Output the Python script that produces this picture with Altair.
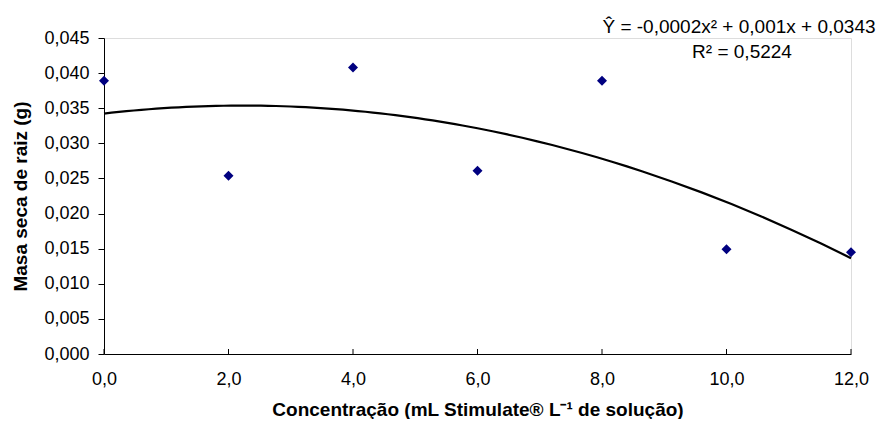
import altair as alt
import pandas as pd

conc = [0, 2, 4, 6, 8, 10, 12]
massa = [0.0389, 0.0254, 0.0408, 0.0261, 0.0389, 0.0149, 0.0145]
y_ticks = [0, 0.005, 0.01, 0.015, 0.02, 0.025, 0.03, 0.035, 0.04, 0.045]

eq_lines = ["Ŷ = -0,0002x² + 0,001x + 0,0343", "R² = 0,5224"]

W, H = 747, 316
FONT = "Liberation Sans"

df = pd.DataFrame({"x": conc, "y": massa})

fmt_x = "replace(format(datum.value, '.1f'), '.', ',')"
fmt_y = "replace(format(datum.value, '.3f'), '.', ',')"

xscale = alt.Scale(domain=[0, 12], nice=False, zero=False)
yscale = alt.Scale(domain=[0, 0.045], nice=False)

x_axis = alt.Axis(title="Concentração (mL Stimulate® L⁻¹ de solução)",
                  values=conc, labelExpr=fmt_x, grid=False,
                  domainColor="black", ticks=False, labelOverlap=False, labelFlush=False,
                  labelFont=FONT, labelFontSize=18, labelColor="black",
                  labelPadding=16,
                  titleFont=FONT, titleFontSize=19, titleFontWeight="bold",
                  titleColor="black", titlePadding=12)
y_axis = alt.Axis(title="Masa seca de raiz (g)",
                  values=y_ticks, labelOverlap=False, labelFlush=False,
                  labelExpr=fmt_y, grid=False,
                  domainColor="black", tickColor="black", tickSize=6,
                  labelFont=FONT, labelFontSize=18, labelColor="black",
                  labelPadding=9,
                  titleFont=FONT, titleFontSize=19, titleFontWeight="bold",
                  titleColor="black", titlePadding=13)

x_enc = alt.X("x:Q", scale=xscale, axis=x_axis)
y_enc = alt.Y("y:Q", scale=yscale, axis=y_axis)

base = alt.Chart(df)

trend = base.transform_regression("x", "y", method="poly", order=2, extent=[0, 12]).mark_line(
    color="black", strokeWidth=2.2
).encode(x=x_enc, y=y_enc)

points = base.mark_point(shape="diamond", filled=True, color="#000080", size=100, opacity=1).encode(
    x=x_enc, y=y_enc
)

# inward x ticks
xticks = alt.Chart(pd.DataFrame({"x": conc})).mark_rule(color="black", strokeWidth=1).encode(
    x=x_enc, y=alt.value(H), y2=alt.value(H - 5)
)

eq1 = alt.Chart(pd.DataFrame({"t": [eq_lines[0]]})).mark_text(
    font=FONT, fontSize=19, color="black", align="center", baseline="middle"
).encode(x=alt.value(635), y=alt.value(-11), text="t:N")
eq2 = alt.Chart(pd.DataFrame({"t": [eq_lines[1]]})).mark_text(
    font=FONT, fontSize=19, color="black", align="center", baseline="middle"
).encode(x=alt.value(638), y=alt.value(14), text="t:N")

chart = alt.layer(trend, xticks, points, eq1, eq2).properties(
    width=W, height=H,
    autosize=alt.AutoSizeParams(type="none"),
    padding={"left": 96, "top": 30, "right": 25, "bottom": 65},
).configure_view(stroke=None).configure(background="white")

chart.save("out.html", embed_options={"renderer": "svg", "actions": False})
